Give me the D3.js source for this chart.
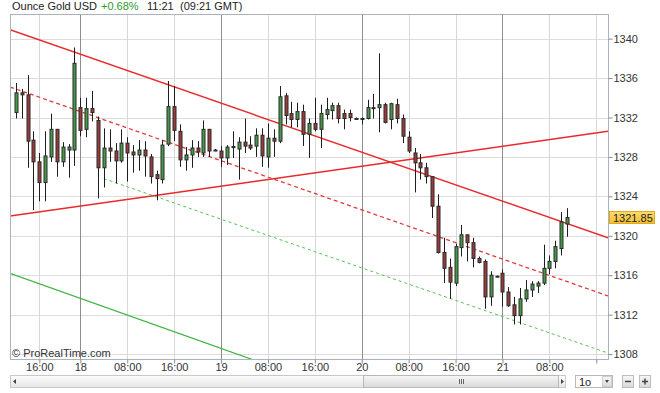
<!DOCTYPE html>
<html>
<head>
<meta charset="utf-8">
<script src="https://cdnjs.cloudflare.com/ajax/libs/d3/7.8.5/d3.min.js"></script>
<style>
    body { margin: 0; background: #fff; font-family: Arial, "Liberation Sans", sans-serif; }
    .axis text { font-size: 11px; fill: #333; font-family: Arial, "Liberation Sans", sans-serif; }
    .axis path { display: none; }
    .axis line { stroke: #8a8a8a; }
</style>
</head>
<body>
<div id="chart"></div>
<script>

// hourly bars, Ounce Gold USD
let opens = [1332.5,1334.5,1334.3,1329.7,1327.5,1325.4,1328.0,1330.8,1327.5,1328.7,
    1328.7,1333.0,1330.8,1332.9,1331.7,1326.9,1328.9,1328.6,1327.6,1329.4,
    1328.5,1328.2,1328.7,1328.0,1326.2,1325.7,1329.3,1333.1,1330.6,1327.7,
    1328.2,1328.9,1328.4,1330.8,1328.7,1328.6,1327.9,1329.0,1328.8,1329.5,
    1329.2,1329.1,1330.2,1328.0,1329.9,1329.6,1334.2,1332.4,1331.8,1332.6,
    1330.3,1331.4,1330.8,1332.3,1332.7,1333.2,1332.4,1332.4,1331.9,1331.9,
    1331.9,1333.0,1333.0,1333.3,1331.8,1333.3,1331.9,1330.0,1328.4,1327.4,
    1326.9,1326.0,1323.0,1318.3,1316.8,1315.2,1318.8,1320.1,1319.3,1317.7,
    1317.4,1313.8,1315.9,1316.2,1314.3,1313.0,1311.9,1313.6,1314.5,1314.9,
    1315.2,1316.7,1317.4,1318.7,1321.2];
let highs = [1335.5,1334.9,1336.3,1330.6,1328.4,1330.6,1332.4,1330.8,1329.5,1329.3,
    1339.1,1334.0,1334.0,1334.7,1332.1,1330.9,1330.8,1329.4,1330.8,1330.0,
    1329.2,1329.7,1329.6,1328.3,1326.6,1329.7,1335.7,1335.2,1331.3,1329.0,
    1329.7,1329.6,1331.7,1330.8,1328.8,1329.1,1329.2,1330.6,1330.0,1331.9,
    1330.1,1330.9,1330.9,1331.4,1330.8,1335.2,1334.5,1333.6,1333.5,1333.3,
    1331.9,1334.0,1333.3,1334.0,1333.5,1333.5,1332.8,1332.8,1332.0,1332.0,
    1333.8,1334.4,1338.5,1333.5,1333.5,1333.9,1332.3,1330.6,1328.9,1328.3,
    1327.4,1326.0,1324.2,1319.8,1317.7,1319.2,1321.1,1320.1,1319.8,1317.9,
    1317.6,1316.4,1315.95,1316.6,1314.8,1313.8,1314.7,1315.5,1315.4,1315.4,
    1319.1,1318.0,1319.5,1322.4,1322.8];
let lows = [1331.9,1331.9,1326.9,1322.6,1323.5,1323.5,1327.5,1326.0,1327.0,1325.9,
    1327.1,1330.1,1330.0,1331.6,1323.8,1324.9,1327.5,1325.3,1327.4,1325.5,
    1326.4,1326.6,1326.0,1325.3,1323.6,1325.3,1329.1,1329.6,1327.0,1326.6,
    1326.9,1328.0,1328.0,1328.0,1328.6,1327.0,1327.2,1327.9,1325.7,1328.4,
    1328.7,1328.0,1327.0,1326.9,1328.0,1329.4,1331.3,1331.0,1331.0,1329.1,
    1327.9,1330.6,1328.9,1331.8,1331.8,1331.4,1330.8,1331.6,1331.9,1331.3,
    1331.8,1331.9,1330.5,1331.4,1330.8,1331.4,1329.4,1328.4,1324.4,1325.7,
    1325.3,1321.8,1318.2,1315.2,1313.6,1314.9,1317.9,1317.4,1316.8,1317.2,
    1312.6,1312.9,1315.85,1312.8,1312.8,1311.0,1311.0,1313.3,1313.8,1314.2,
    1315.0,1316.1,1316.7,1318.0,1319.9];
let closes = [1334.5,1334.3,1329.6,1327.5,1325.4,1328.1,1330.8,1327.5,1329.0,1329.0,
    1337.5,1330.7,1332.9,1332.5,1326.9,1328.9,1328.6,1327.6,1329.4,1328.4,
    1328.2,1328.7,1328.1,1326.0,1325.8,1329.2,1333.1,1330.7,1327.7,1328.2,
    1328.9,1328.5,1330.8,1328.6,1328.7,1327.9,1329.0,1329.05,1329.5,1329.1,
    1328.9,1330.2,1328.1,1329.9,1329.6,1334.1,1332.2,1331.8,1332.6,1330.3,
    1331.4,1330.8,1332.4,1332.8,1333.2,1331.9,1331.9,1332.0,1331.9,1331.9,
    1333.0,1333.0,1333.3,1331.5,1333.4,1331.9,1330.1,1328.6,1327.4,1326.9,
    1326.0,1323.0,1318.3,1316.7,1315.3,1318.9,1320.1,1319.3,1317.7,1317.3,
    1313.8,1316.0,1315.9,1314.3,1312.9,1311.9,1313.6,1314.5,1315.1,1315.2,
    1316.7,1317.4,1318.9,1321.4,1321.85];

// time axis (bar index -> label)
let timeTickIndex = [4, 11, 19, 27, 35, 43, 51, 59, 67, 75, 83, 91, 99];
let timeTickLabels = ["16:00", "18", "08:00", "16:00", "19", "08:00", "16:00", "20", "08:00", "16:00", "21", "08:00", ""];
let dayLabels = ["18", "19", "20", "21"];

let priceTicks = [1308, 1312, 1316, 1320, 1324, 1328, 1332, 1336, 1340];

// trend lines, [bar index, price]
let resistanceLine = [[-1, 1340.9], [101, 1319.8]];
let risingLine = [[-1, 1322.0], [101, 1330.6]];
let midChannelLine = [[-1, 1335.1], [101, 1313.9]];
let lowerChannelLine = [[15, 1325.8], [101, 1308.1]];
let oldChannelLine = [[-1, 1316.2], [101, 1294.6]];

let headerTitle = "Ounce Gold USD";
let headerChange = "+0.68%";
let headerTime = "11:21";
let headerGmt = "(09:21 GMT)";


class CandleChart {

    constructor(parentElement) {
        this.parentElement = parentElement;
        this.data = opens.map((o, i) => ({i: i, o: o, h: highs[i], l: lows[i], c: closes[i]}));
        this.initVis();
    }

    initVis() {
        let vis = this;

        vis.outerWidth = 660;
        vis.outerHeight = 393;
        vis.plot = {left: 10, right: 608, top: 14, bottom: 359};

        vis.svg = d3.select("#" + vis.parentElement).append("svg")
            .attr("width", vis.outerWidth)
            .attr("height", vis.outerHeight)
            .style("display", "block");

        vis.x = d3.scaleLinear()
            .domain([-1, 101])
            .range([vis.plot.left, vis.plot.right]);

        vis.y = d3.scaleLinear()
            .domain([1307.5, 1342.5])
            .range([vis.plot.bottom, vis.plot.top]);

        vis.svg.append("defs").append("clipPath")
            .attr("id", "clip")
            .append("rect")
            .attr("x", vis.plot.left)
            .attr("y", vis.plot.top)
            .attr("width", vis.plot.right - vis.plot.left)
            .attr("height", vis.plot.bottom - vis.plot.top);

        // gradients for the yellow price tag and scrollbar
        let defs = vis.svg.select("defs");
        let tagGrad = defs.append("linearGradient").attr("id", "tagGrad").attr("x2", 0).attr("y2", 1);
        tagGrad.append("stop").attr("offset", "0%").attr("stop-color", "#fcdc6e");
        tagGrad.append("stop").attr("offset", "100%").attr("stop-color", "#f3bf30");
        let barGrad = defs.append("linearGradient").attr("id", "barGrad").attr("x2", 0).attr("y2", 1);
        barGrad.append("stop").attr("offset", "0%").attr("stop-color", "#fdfdfd");
        barGrad.append("stop").attr("offset", "100%").attr("stop-color", "#e6e6e6");
        let thumbGrad = defs.append("linearGradient").attr("id", "thumbGrad").attr("x2", 0).attr("y2", 1);
        thumbGrad.append("stop").attr("offset", "0%").attr("stop-color", "#f7f7f7");
        thumbGrad.append("stop").attr("offset", "100%").attr("stop-color", "#d9d9d9");

        // header
        let header = vis.svg.append("g").attr("class", "header")
            .style("font-size", "11px")
            .style("font-family", "Arial, 'Liberation Sans', sans-serif");
        header.append("text").attr("x", 12).attr("y", 10).attr("fill", "#222").text(headerTitle);
        header.append("text").attr("x", 101).attr("y", 10).attr("fill", "#2f9a2f").text(headerChange);
        header.append("text").attr("x", 147).attr("y", 10).attr("fill", "#222").text(headerTime);
        header.append("text").attr("x", 180).attr("y", 10).attr("fill", "#222").text(headerGmt);

        // grid
        vis.svg.append("g").attr("class", "h-grid")
            .selectAll("line").data(priceTicks).enter().append("line")
            .attr("x1", vis.plot.left).attr("x2", vis.plot.right)
            .attr("y1", d => Math.round(vis.y(d)) + 0.5)
            .attr("y2", d => Math.round(vis.y(d)) + 0.5)
            .attr("stroke", "#dcdcdc");

        vis.svg.append("g").attr("class", "v-grid")
            .selectAll("line").data(timeTickIndex).enter().append("line")
            .attr("x1", d => Math.round(vis.x(d)) + 0.5)
            .attr("x2", d => Math.round(vis.x(d)) + 0.5)
            .attr("y1", vis.plot.top).attr("y2", vis.plot.bottom)
            .attr("stroke", (d, i) => dayLabels.includes(timeTickLabels[i]) ? "#8e8e8e" : "#d8d8d8");

        // trend lines
        vis.lineGen = d3.line()
            .x(d => vis.x(d[0]))
            .y(d => vis.y(d[1]));

        vis.lines = vis.svg.append("g").attr("clip-path", "url(#clip)");

        vis.addLine(oldChannelLine, "#3cb43c", null, 1.2);
        vis.addLine(lowerChannelLine, "#52c452", "3,3", 1);
        vis.addLine(midChannelLine, "#e23a3a", "4,3", 1.3);
        vis.addLine(risingLine, "#e8282a", null, 1.4);
        vis.addLine(resistanceLine, "#e8282a", null, 1.4);

        vis.candles = vis.svg.append("g").attr("class", "candles").attr("clip-path", "url(#clip)");

        // border
        vis.svg.append("rect")
            .attr("x", vis.plot.left + 0.5).attr("y", vis.plot.top + 0.5)
            .attr("width", vis.plot.right - vis.plot.left)
            .attr("height", vis.plot.bottom - vis.plot.top)
            .attr("fill", "none")
            .attr("stroke", "#aab4c0");

        // axes
        vis.yAxis = d3.axisRight(vis.y)
            .tickValues(priceTicks)
            .tickSize(4)
            .tickPadding(1)
            .tickFormat(d3.format("d"));

        vis.svg.append("g")
            .attr("class", "y-axis axis")
            .attr("transform", "translate(" + (vis.plot.right + 0.5) + ",0)")
            .call(vis.yAxis);

        vis.xAxis = d3.axisBottom(vis.x)
            .tickValues(timeTickIndex)
            .tickSize(4)
            .tickPadding(0)
            .tickFormat((d, i) => timeTickLabels[i]);

        vis.svg.append("g")
            .attr("class", "x-axis axis")
            .attr("transform", "translate(0," + (vis.plot.bottom + 0.5) + ")")
            .call(vis.xAxis);

        vis.svg.selectAll(".axis .tick line")
            .attr("stroke", "#8a8a8a");

        vis.svg.append("text")
            .attr("x", 12).attr("y", 357)
            .style("font-size", "11px")
            .attr("fill", "#333")
            .text("\u00a9 ProRealTime.com");

        vis.drawControls();
        vis.updateVis();
    }

    addLine(points, color, dash, width) {
        let vis = this;
        vis.lines.append("path")
            .datum(points)
            .attr("d", vis.lineGen)
            .attr("fill", "none")
            .attr("stroke", color)
            .attr("stroke-width", width)
            .attr("stroke-dasharray", dash);
    }

    updateVis() {
        let vis = this;

        let bars = vis.candles.selectAll(".bar")
            .data(vis.data)
            .enter().append("g")
            .attr("class", "bar");

        bars.append("line")
            .attr("x1", d => Math.round(vis.x(d.i)) + 0.5)
            .attr("x2", d => Math.round(vis.x(d.i)) + 0.5)
            .attr("y1", d => vis.y(d.h))
            .attr("y2", d => vis.y(d.l))
            .attr("stroke", "#1e1e1e");

        bars.append("rect")
            .attr("x", d => Math.round(vis.x(d.i)) - 1)
            .attr("width", 3)
            .attr("y", d => vis.y(Math.max(d.o, d.c)))
            .attr("height", d => Math.max(1, Math.abs(vis.y(d.o) - vis.y(d.c))))
            .attr("fill", d => d.c >= d.o ? "#469a45" : "#9a3c3c")
            .attr("stroke", "#2a2a2a")
            .attr("stroke-width", 1);

        // last price tag
        let last = vis.data[vis.data.length - 1];
        let ty = vis.y(last.c);
        vis.svg.append("rect")
            .attr("x", 609.5).attr("y", Math.round(ty) - 6.5)
            .attr("width", 45).attr("height", 12)
            .attr("fill", "url(#tagGrad)")
            .attr("stroke", "#e2a820");
        vis.svg.append("text")
            .attr("x", 613).attr("y", Math.round(ty) + 4)
            .style("font-size", "11px")
            .attr("fill", "#222")
            .text(d3.format(".2f")(last.c));
    }

    drawControls() {
        let vis = this;
        let g = vis.svg.append("g").attr("class", "controls");

        // scrollbar
        g.append("rect").attr("x", 10.5).attr("y", 375.5).attr("width", 555).attr("height", 12)
            .attr("fill", "url(#barGrad)").attr("stroke", "#c9c9c9");
        g.append("rect").attr("x", 363.5).attr("y", 375.5).attr("width", 195).attr("height", 12)
            .attr("fill", "url(#thumbGrad)").attr("stroke", "#b9b9b9");
        [459, 461, 463].forEach(x => {
            g.append("line").attr("x1", x + 0.5).attr("x2", x + 0.5).attr("y1", 379).attr("y2", 384)
                .attr("stroke", "#666");
        });
        g.append("path").attr("d", "M13,381.5 L16,379 L16,384 Z").attr("fill", "#444");
        g.append("path").attr("d", "M564,381.5 L561,379 L561,384 Z").attr("fill", "#444");

        // period selector
        g.append("rect").attr("x", 575.5).attr("y", 375.5).attr("width", 37).attr("height", 12)
            .attr("fill", "#fff").attr("stroke", "#b9b9b9");
        g.append("rect").attr("x", 602.5).attr("y", 376.5).attr("width", 9).attr("height", 10)
            .attr("fill", "url(#thumbGrad)").attr("stroke", "#cfcfcf");
        g.append("path").attr("d", "M605,380 L609,380 L607,383 Z").attr("fill", "#444");
        g.append("text").attr("x", 579).attr("y", 385.5)
            .style("font-size", "11px").attr("fill", "#222").text("1o");

        // zoom buttons
        g.append("rect").attr("x", 622.5).attr("y", 375.5).attr("width", 11).attr("height", 12)
            .attr("fill", "url(#thumbGrad)").attr("stroke", "#bdbdbd");
        g.append("line").attr("x1", 625).attr("x2", 631).attr("y1", 381.5).attr("y2", 381.5)
            .attr("stroke", "#444").attr("stroke-width", 1.5);
        g.append("rect").attr("x", 639.5).attr("y", 375.5).attr("width", 11).attr("height", 12)
            .attr("fill", "url(#thumbGrad)").attr("stroke", "#bdbdbd");
        g.append("line").attr("x1", 642).attr("x2", 648).attr("y1", 381.5).attr("y2", 381.5)
            .attr("stroke", "#444").attr("stroke-width", 1.5);
        g.append("line").attr("x1", 645).attr("x2", 645).attr("y1", 378.5).attr("y2", 384.5)
            .attr("stroke", "#444").attr("stroke-width", 1.5);
    }
}

let chart = new CandleChart("chart");

</script>
</body>
</html>
